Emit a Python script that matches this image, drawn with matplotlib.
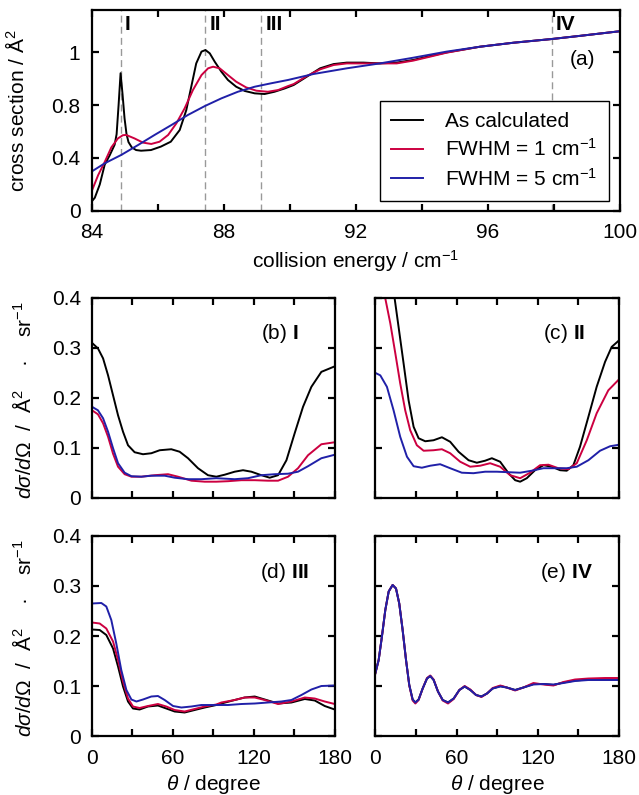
import numpy as np
import matplotlib
matplotlib.use("Agg")
import matplotlib.pyplot as plt

# ---- panel (a): integral cross section vs collision energy ----
e_black = [84.0, 84.1, 84.25, 84.4, 84.55, 84.7, 84.76, 84.82, 84.88, 84.94, 85.0, 85.06,
           85.12, 85.22, 85.35, 85.5, 85.8, 86.1, 86.4, 86.67, 86.87, 87.02, 87.17, 87.33,
           87.45, 87.58, 87.73, 87.93, 88.13, 88.38, 88.64, 88.94, 89.24, 89.54, 89.85,
           90.12, 90.52, 90.92, 91.33, 91.73, 92.23, 92.73, 93.24, 93.74, 94.25, 94.75,
           95.76, 96.77, 97.93, 98.79, 100.0]
cs_black = [0.07, 0.10, 0.20, 0.35, 0.42, 0.50, 0.58, 0.80, 1.04, 0.88, 0.70, 0.58,
            0.52, 0.48, 0.46, 0.455, 0.46, 0.486, 0.523, 0.611, 0.762, 0.938, 1.114, 1.203,
            1.215, 1.19, 1.127, 1.052, 0.989, 0.938, 0.906, 0.888, 0.883, 0.90, 0.925,
            0.951, 1.014, 1.077, 1.109, 1.12, 1.12, 1.114, 1.12, 1.14, 1.17, 1.197,
            1.24, 1.27, 1.298, 1.322, 1.357]

e_red = [84.0, 84.2, 84.4, 84.6, 84.8, 84.95, 85.05, 85.3, 85.56, 85.81, 86.06, 86.32,
         86.57, 86.82, 87.07, 87.33, 87.53, 87.68, 87.88, 88.13, 88.38, 88.68, 88.99,
         89.34, 89.65, 89.95, 90.12, 90.52, 90.92, 91.33, 91.73, 92.23, 92.73, 93.24,
         93.74, 94.25, 94.75, 95.76, 96.77, 97.93, 98.79, 100.0]
cs_red = [0.146, 0.27, 0.37, 0.48, 0.548, 0.572, 0.574, 0.548, 0.516, 0.506, 0.523, 0.574,
          0.662, 0.775, 0.913, 1.026, 1.077, 1.089, 1.077, 1.026, 0.976, 0.933, 0.908,
          0.90, 0.913, 0.943, 0.958, 1.019, 1.069, 1.102, 1.114, 1.114, 1.114, 1.114,
          1.135, 1.165, 1.195, 1.24, 1.27, 1.298, 1.322, 1.357]

e_blue = [84.0, 84.4, 84.9, 85.41, 85.91, 86.42, 86.92, 87.43, 87.93, 88.43, 88.94,
          89.44, 89.95, 90.72, 91.73, 92.73, 93.74, 94.75, 95.76, 96.77, 97.93, 98.79, 100.0]
cs_blue = [0.297, 0.36, 0.423, 0.498, 0.574, 0.649, 0.725, 0.792, 0.85, 0.90, 0.938,
           0.964, 0.989, 1.034, 1.077, 1.114, 1.157, 1.203, 1.24, 1.27, 1.298, 1.322, 1.357]

marks = [84.88, 87.45, 89.14, 97.93]
mark_names = ["I", "II", "III", "IV"]

# ---- panels (b)-(e): differential cross sections vs angle ----
th_b_k = [0, 4.4, 8.2, 11.9, 15.6, 19.3, 23, 26.7, 31.6, 37.8, 44, 50.2, 58.8, 65, 71.2,
          78.6, 86, 92.2, 98.4, 105.8, 112, 118.2, 125.6, 131.8, 138, 144.2, 150.3, 156.5,
          162.7, 170.1, 180]
b_k = [0.31, 0.299, 0.279, 0.245, 0.205, 0.165, 0.132, 0.105, 0.091, 0.087, 0.089, 0.095,
       0.097, 0.092, 0.079, 0.059, 0.045, 0.042, 0.046, 0.052, 0.055, 0.052, 0.045, 0.04,
       0.045, 0.075, 0.129, 0.182, 0.222, 0.252, 0.263]
th_b_r = [0, 4.4, 8.2, 11.9, 15.6, 19.3, 24.2, 29.2, 36.6, 46.5, 56.4, 63.8, 73.7, 83.6,
          92.2, 100.9, 110.8, 120.7, 130.5, 138, 145.4, 152.8, 160.2, 170.1, 180]
b_r = [0.175, 0.167, 0.149, 0.122, 0.088, 0.062, 0.047, 0.042, 0.042, 0.045, 0.047, 0.042,
       0.034, 0.032, 0.032, 0.033, 0.035, 0.035, 0.034, 0.034, 0.042, 0.059, 0.085, 0.107,
       0.111]
th_b_b = [0, 4.4, 8.2, 11.9, 15.6, 19.3, 24.2, 29.2, 36.6, 44, 53.9, 61.3, 71.2, 81.1,
          92.2, 105.8, 115.7, 125.6, 135.5, 145.4, 152.8, 160.2, 170.1, 180]
b_b = [0.182, 0.175, 0.159, 0.132, 0.099, 0.069, 0.05, 0.043, 0.042, 0.044, 0.044, 0.04,
       0.037, 0.037, 0.039, 0.037, 0.039, 0.045, 0.047, 0.048, 0.052, 0.063, 0.079, 0.086]

th_c_k = [9, 14.3, 17.2, 20.9, 24.6, 28.3, 32, 36.9, 43, 49.2, 55.3, 61.5, 68.9, 75, 81.1,
          86.1, 92.2, 98.4, 103.3, 107, 111.9, 118, 124.2, 130.3, 136.5, 141.4, 146.3, 151.2,
          157.4, 163.5, 169.7, 174.6, 180]
c_k = [0.48, 0.399, 0.342, 0.269, 0.195, 0.142, 0.119, 0.113, 0.115, 0.121, 0.112, 0.092,
       0.075, 0.07, 0.074, 0.079, 0.072, 0.049, 0.035, 0.032, 0.039, 0.055, 0.065, 0.062,
       0.055, 0.054, 0.065, 0.102, 0.162, 0.222, 0.272, 0.302, 0.315]
th_c_r = [0, 7.4, 11.1, 14.8, 18.4, 22.1, 25.8, 30.7, 35.7, 43, 49.2, 55.3, 62.7, 70.1, 77.5,
          84.8, 92.2, 99.6, 107, 114.3, 121.7, 127.9, 135.2, 142.6, 148.8, 156.2, 163.5,
          172.1, 180]
c_r = [0.47, 0.399, 0.349, 0.289, 0.229, 0.175, 0.135, 0.105, 0.094, 0.095, 0.097, 0.089,
       0.072, 0.062, 0.064, 0.069, 0.062, 0.045, 0.039, 0.05, 0.065, 0.066, 0.059, 0.057,
       0.069, 0.115, 0.169, 0.215, 0.237]
th_c_b = [0, 3.7, 8.6, 13.5, 18.4, 23.4, 28.3, 34.4, 40.6, 47.9, 55.3, 63.9, 72.5, 81.1,
          89.8, 98.4, 107, 115.6, 124.2, 132.8, 141.4, 148.8, 157.4, 166, 173.4, 180]
c_b = [0.25, 0.245, 0.222, 0.175, 0.122, 0.082, 0.063, 0.06, 0.064, 0.067, 0.059, 0.05,
       0.049, 0.052, 0.052, 0.051, 0.05, 0.054, 0.059, 0.059, 0.059, 0.062, 0.075, 0.094,
       0.103, 0.106]

th_d = [0, 5.7, 10.6, 15.6, 19.3, 23, 26.7, 30.4, 35.3, 41.5, 48.9, 55.1, 61.3, 68.7, 76.1,
        83.6, 92.2, 95.9, 105.8, 113.2, 120.7, 128.1, 138, 147.9, 157.8, 165.2, 172.6, 180]
d_k = [0.213, 0.212, 0.202, 0.175, 0.139, 0.099, 0.069, 0.055, 0.053, 0.059, 0.061, 0.055,
       0.049, 0.047, 0.052, 0.057, 0.062, 0.065, 0.072, 0.077, 0.079, 0.073, 0.065, 0.067,
       0.074, 0.071, 0.06, 0.053]
d_r = [0.227, 0.225, 0.215, 0.189, 0.152, 0.109, 0.075, 0.059, 0.056, 0.06, 0.064, 0.059,
       0.052, 0.049, 0.054, 0.059, 0.063, 0.067, 0.072, 0.077, 0.077, 0.072, 0.064, 0.069,
       0.077, 0.075, 0.069, 0.064]
th_d_b = [0, 6.9, 10.6, 14.3, 18, 21.7, 25.5, 29.2, 32.9, 37.8, 44, 48.9, 53.9, 60.1, 66.3,
          73.7, 81.1, 91, 100.9, 110.8, 120.7, 130.5, 140.4, 147.9, 155.3, 162.7, 170.1, 180]
d_b = [0.265, 0.266, 0.259, 0.232, 0.185, 0.132, 0.092, 0.073, 0.069, 0.073, 0.079, 0.08,
       0.072, 0.06, 0.057, 0.059, 0.062, 0.062, 0.062, 0.064, 0.065, 0.067, 0.069, 0.072,
       0.082, 0.093, 0.1, 0.101]

th_e = [0, 2.5, 4.9, 7.4, 9.9, 12.8, 15.3, 17.7, 20.2, 22.7, 25.1, 27.6, 29.6, 32, 35, 38.2,
        40.6, 43.1, 46.3, 49.8, 53.7, 57.9, 62.1, 66, 70.2, 74.4, 78.4, 82.5, 86.7, 92.4,
        97.1, 103.3, 109.4, 116.8, 124.2, 131.6, 139, 147.5, 157.4, 169.7, 180]
e_k = [0.125, 0.152, 0.199, 0.252, 0.289, 0.302, 0.295, 0.265, 0.212, 0.152, 0.102, 0.073,
       0.067, 0.073, 0.095, 0.115, 0.12, 0.112, 0.089, 0.072, 0.067, 0.075, 0.092, 0.099,
       0.092, 0.082, 0.079, 0.085, 0.095, 0.1, 0.097, 0.092, 0.097, 0.104, 0.104, 0.102,
       0.107, 0.111, 0.113, 0.113, 0.113]
e_r = [0.125, 0.152, 0.199, 0.252, 0.289, 0.302, 0.295, 0.265, 0.212, 0.152, 0.101, 0.071,
       0.065, 0.072, 0.095, 0.116, 0.121, 0.113, 0.089, 0.071, 0.065, 0.074, 0.092, 0.1,
       0.093, 0.082, 0.078, 0.085, 0.096, 0.101, 0.097, 0.091, 0.097, 0.106, 0.103, 0.101,
       0.108, 0.113, 0.115, 0.116, 0.116]
e_b = [0.125, 0.152, 0.199, 0.252, 0.289, 0.302, 0.295, 0.265, 0.212, 0.152, 0.102, 0.073,
       0.067, 0.073, 0.095, 0.115, 0.12, 0.112, 0.089, 0.072, 0.067, 0.075, 0.092, 0.099,
       0.092, 0.082, 0.079, 0.085, 0.095, 0.099, 0.097, 0.092, 0.097, 0.103, 0.104, 0.103,
       0.106, 0.11, 0.112, 0.112, 0.112]

BLACK, RED, BLUE = "black", "#cc0040", "#2020a8"
LW = 1.4

plt.rcParams.update({
    "font.family": ["Liberation Sans", "DejaVu Sans"],
    "mathtext.fontset": "custom",
    "mathtext.rm": "Liberation Sans",
    "mathtext.it": "Liberation Sans:italic",
    "mathtext.bf": "Liberation Sans:bold",
    "font.size": 15,
    "axes.linewidth": 1.6,
    "xtick.direction": "in", "ytick.direction": "in",
    "xtick.top": True, "ytick.right": True,
    "xtick.major.size": 5, "ytick.major.size": 5,
    "xtick.major.width": 1.6, "ytick.major.width": 1.6,
    "xtick.major.pad": 9, "ytick.major.pad": 8,
})

fig = plt.figure(figsize=(6.39, 7.95), dpi=100)

# top panel
ax = fig.add_axes([0.1432, 0.7346, 0.8271, 0.2528])
for xm, nm in zip(marks, mark_names):
    ax.axvline(xm, color="#999999", lw=1.0, ls=(0, (5, 3)), zorder=1)
    ax.text(xm + 0.12, 0.93, nm, transform=ax.get_xaxis_transform(),
            fontweight="bold", ha="left", va="center")
ax.plot(e_black, cs_black, color=BLACK, lw=LW, label="As calculated")
ax.plot(e_red, cs_red, color=RED, lw=LW, label="FWHM = 1 cm$^{-1}$")
ax.plot(e_blue, cs_blue, color=BLUE, lw=LW, label="FWHM = 5 cm$^{-1}$")
ax.set_xlim(84, 100)
ax.set_ylim(0, 1.517)
xt = np.arange(84, 101, 2)
ax.set_xticks(xt)
ax.set_xticklabels([str(t) if t % 4 == 0 else "" for t in xt])
ax.set_yticks([0, 0.4, 0.8, 1.2])
ax.set_yticklabels(["0", "0.4", "0.8", "1"])
ax.set_xlabel("collision energy / cm$^{-1}$", labelpad=4)
ax.set_ylabel("cross section / Å$^{2}$")
ax.yaxis.set_label_coords(-0.12, 0.5)
ax.text(0.953, 0.755, "(a)", transform=ax.transAxes, ha="right", va="center")
leg = ax.legend(loc="lower right", bbox_to_anchor=(0.979, 0.05), fancybox=False,
                edgecolor="black", framealpha=1, handlelength=1.5, handletextpad=1.1,
                labelspacing=0.35, borderpad=0.55, borderaxespad=0)
leg.get_frame().set_linewidth(1.0)

panels = [
    ([0.144, 0.374, 0.3798, 0.2512], "(b) $\\mathbf{I}$", 0.852, 0.823,
     (th_b_k, b_k), (th_b_r, b_r), (th_b_b, b_b), True, False),
    ([0.5873, 0.374, 0.3814, 0.2512], "(c) $\\mathbf{II}$", 0.862, 0.823,
     (th_c_k, c_k), (th_c_r, c_r), (th_c_b, c_b), False, False),
    ([0.144, 0.0742, 0.3798, 0.2516], "(d) $\\mathbf{III}$", 0.897, 0.817,
     (th_d, d_k), (th_d, d_r), (th_d_b, d_b), True, True),
    ([0.5873, 0.0742, 0.3814, 0.2516], "(e) $\\mathbf{IV}$", 0.892, 0.817,
     (th_e, e_k), (th_e, e_r), (th_e, e_b), False, True),
]
for rect, tag, tx, ty, k, r, b, left, bottom in panels:
    a = fig.add_axes(rect)
    a.plot(*k, color=BLACK, lw=LW)
    a.plot(*r, color=RED, lw=LW)
    a.plot(*b, color=BLUE, lw=LW)
    a.set_xlim(0, 180)
    a.set_ylim(0, 0.4)
    th = np.arange(0, 181, 30)
    a.set_xticks(th)
    a.set_yticks([0, 0.1, 0.2, 0.3, 0.4])
    if bottom:
        a.set_xticklabels([str(t) if t % 60 == 0 else "" for t in th])
        a.set_xlabel(r"$\theta$ / degree", labelpad=4)
    else:
        a.set_xticklabels([])
    if left:
        a.set_yticklabels(["0", "0.1", "0.2", "0.3", "0.4"])
        a.set_ylabel(r"$d\sigma$/$d\Omega$  /  Å$^{2}$    ·    sr$^{-1}$", fontsize=15)
        a.yaxis.set_label_coords(-0.235, 0.49)
    else:
        a.set_yticklabels([])
    a.text(tx, ty, tag, transform=a.transAxes, ha="right", va="center")

fig.savefig("out.png", dpi=100)
